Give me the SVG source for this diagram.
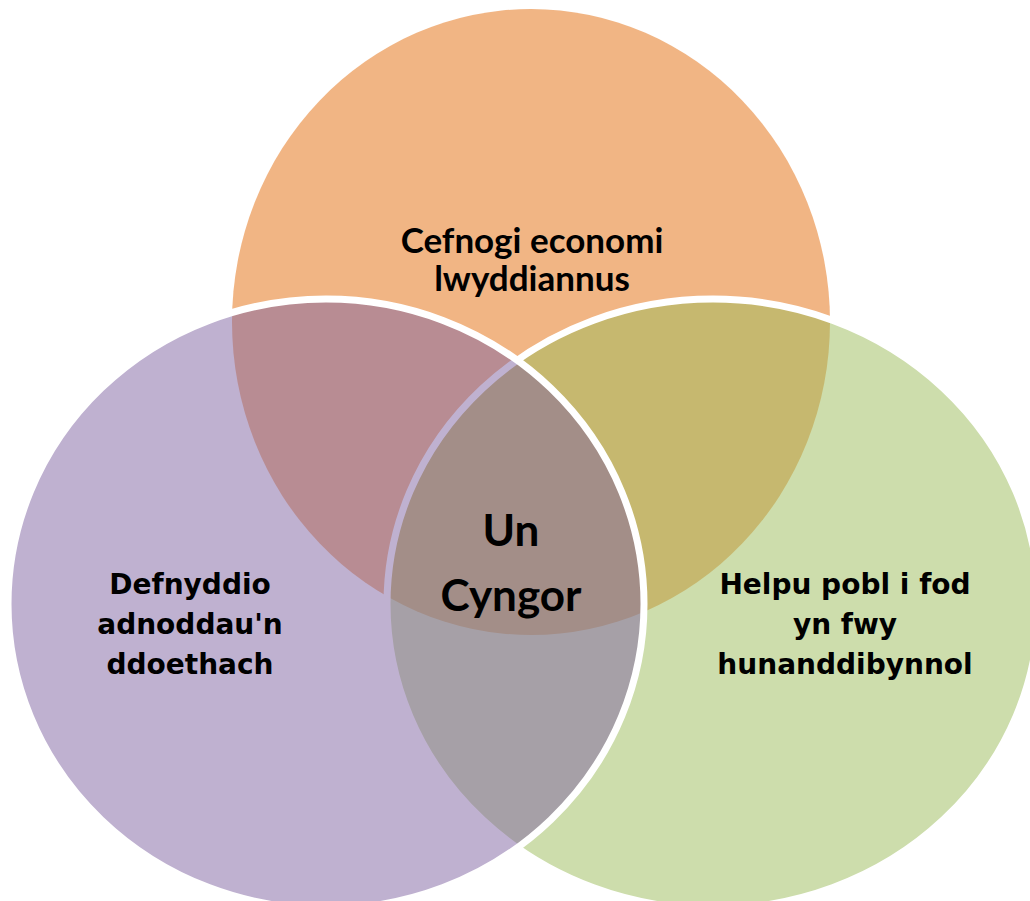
<svg xmlns="http://www.w3.org/2000/svg" width="1030" height="901" viewBox="0 0 1030 901">
<style>
.sh{fill-opacity:0.5;}
.st{stroke:#FFFFFF;stroke-width:7;}
.lc{font-family:Lato,"Open Sans","Liberation Sans",sans-serif;font-weight:bold;fill:#000000;text-anchor:middle;}
.lv{font-family:"DejaVu Sans",Verdana,sans-serif;font-weight:bold;fill:#000000;text-anchor:middle;font-size:28px;}
</style>
<rect width="1030" height="901" fill="#FFFFFF"/>
<g id="node-top">
<ellipse class="sh" cx="531" cy="322" rx="299" ry="313" fill="#E46C0A"/>
<text class="lc" font-size="35" x="532" y="253">Cefnogi economi</text>
<text class="lc" font-size="35" x="532" y="291">lwyddiannus</text>
</g>
<g id="node-right">
<ellipse class="sh st" cx="713" cy="604" rx="326" ry="305" fill="#9BBB59"/>
<text class="lv" x="845" y="594">Helpu pobl i fod</text>
<text class="lv" x="845" y="634">yn fwy</text>
<text class="lv" x="845" y="674">hunanddibynnol</text>
</g>
<g id="node-left">
<ellipse class="sh st" cx="326" cy="604" rx="318" ry="305" fill="#8064A2"/>
<text class="lv" x="190" y="594">Defnyddio</text>
<text class="lv" x="190" y="634">adnoddau'n</text>
<text class="lv" x="190" y="674">ddoethach</text>
</g>
<g id="node-center">
<text class="lc" font-size="44" x="511" y="546">Un</text>
<text class="lc" font-size="44" x="511" y="611">Cyngor</text>
</g>
<g id="connectors"></g>
</svg>
